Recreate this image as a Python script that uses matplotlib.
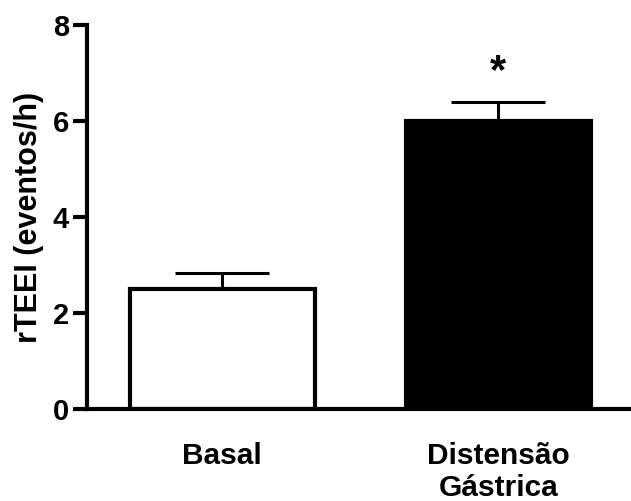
import matplotlib
matplotlib.use('Agg')
import matplotlib.pyplot as plt
from matplotlib import font_manager

# data
groups = ['Basal', 'Distensão\nGástrica']
means = [2.5, 6.0]
sem = [0.33, 0.4]
fills = ['white', 'black']
y_ticks = [0, 2, 4, 6, 8]

# use the regular-width Liberation Sans Bold file (Arial metrics)
bold_file = None
for f in font_manager.findSystemFonts():
    if f.endswith('LiberationSans-Bold.ttf'):
        bold_file = f
        break


def fp(size):
    if bold_file:
        return font_manager.FontProperties(fname=bold_file, size=size)
    return font_manager.FontProperties(family='DejaVu Sans', weight='bold',
                                       size=size)


fig = plt.figure(figsize=(6.31, 5.01), dpi=100)
ax = fig.add_axes([0.138, 0.1836, 0.862, 0.7664])

x = list(range(len(groups)))
ax.bar(x, means, width=0.67, color=fills, edgecolor='black', linewidth=3,
       zorder=2)
ax.errorbar(x, means, yerr=[[0] * len(sem), sem], fmt='none', ecolor='black',
            elinewidth=2.2, capsize=34, capthick=2.2, zorder=1)

# significance marker
ax.text(1, means[1] + sem[1] + 0.62, '*', ha='center', va='center',
        fontproperties=fp(30))

ax.set_xlim(-0.49, 1.48)
ax.set_ylim(0, 8)
ax.set_yticks(y_ticks)
ax.set_yticklabels([str(t) for t in y_ticks], fontproperties=fp(21))
ax.set_xticks(x)
ax.set_xticklabels(groups, fontproperties=fp(21.5), linespacing=1.15)
ax.tick_params(axis='x', length=0, pad=24)
ax.tick_params(axis='y', length=10, width=3, pad=3)
ax.set_ylabel('rTEEI (eventos/h)', fontproperties=fp(22), labelpad=6)

for side in ['top', 'right']:
    ax.spines[side].set_visible(False)
for side in ['left', 'bottom']:
    ax.spines[side].set_linewidth(3)
ax.spines['left'].set_zorder(3)
ax.spines['bottom'].set_zorder(3)

fig.savefig('out.png', dpi=100)
